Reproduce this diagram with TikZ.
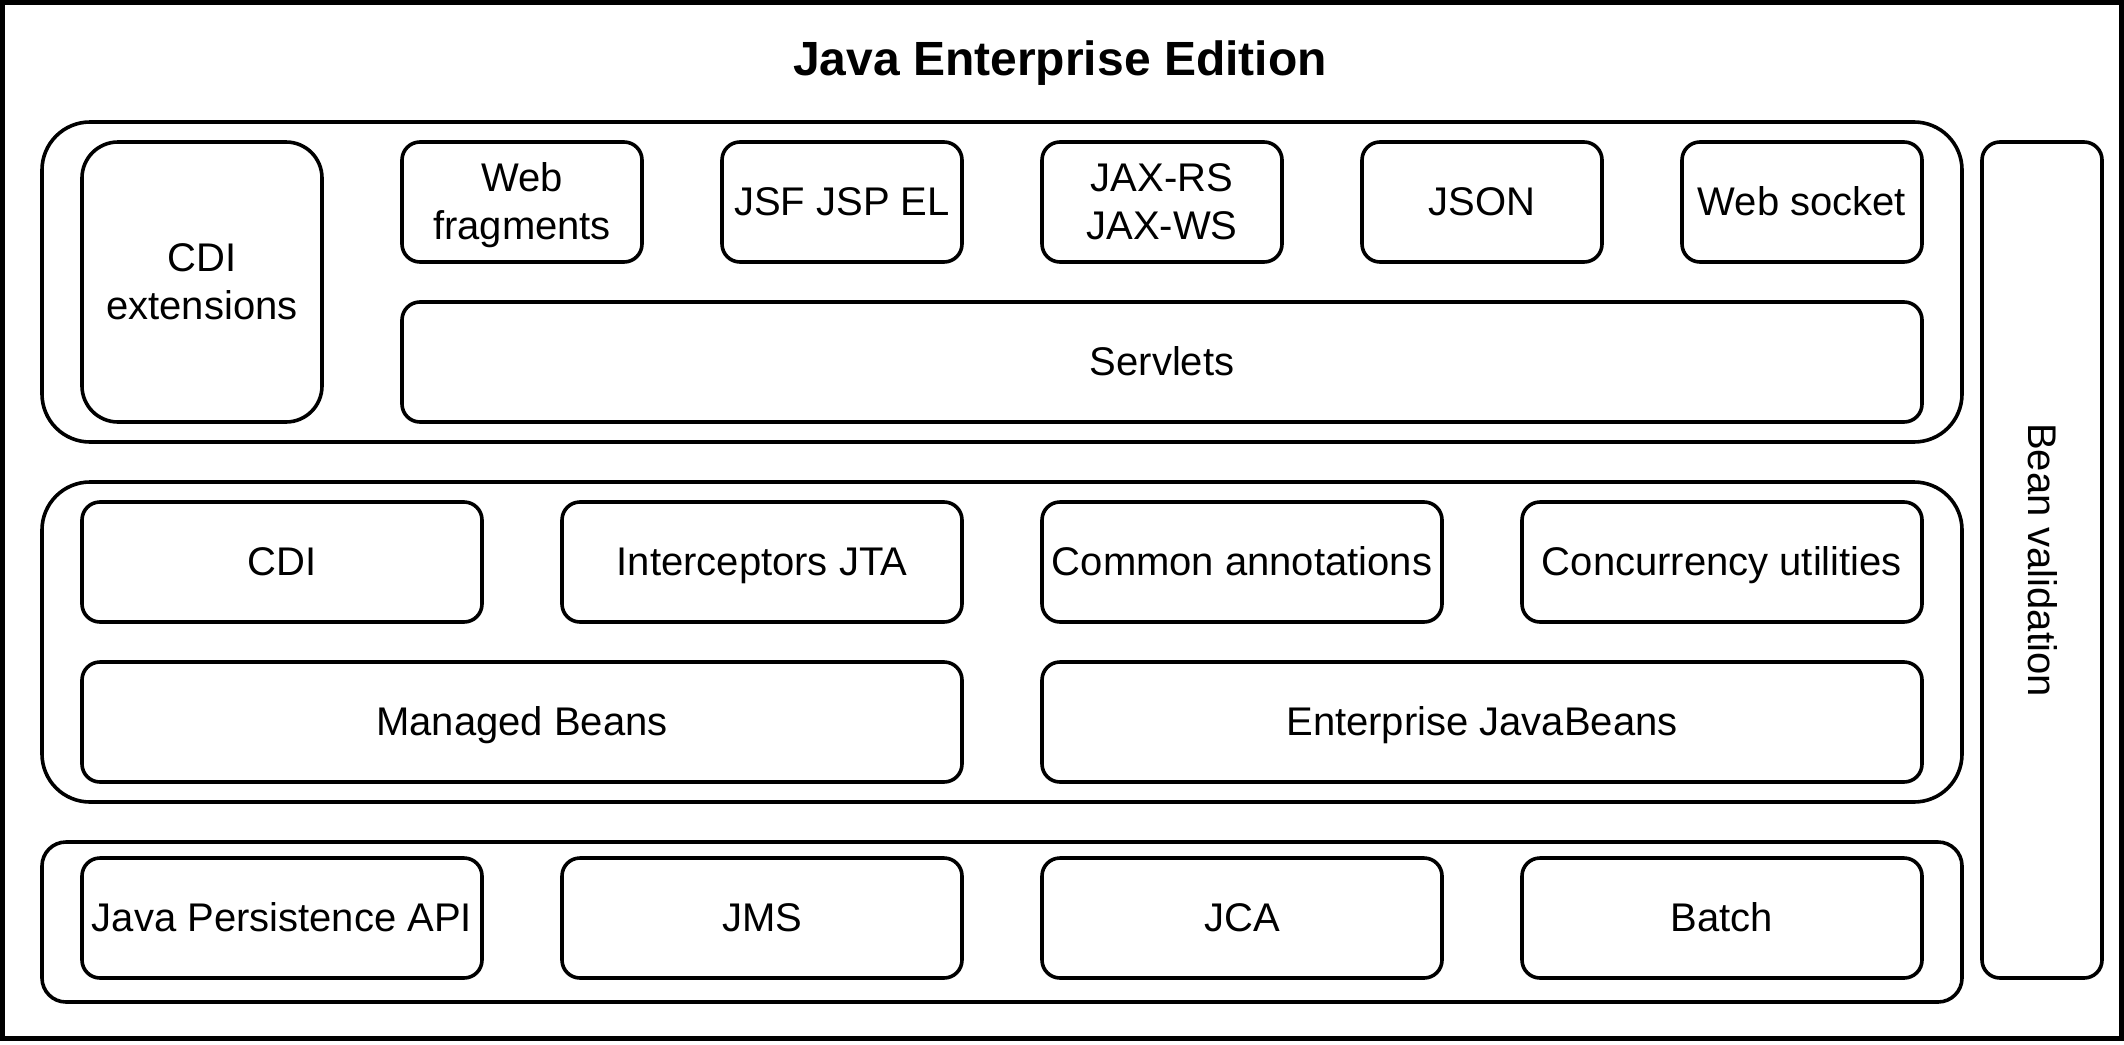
\documentclass[tikz,border=0pt]{standalone}
\usepackage{fontspec}
\setmainfont{Liberation Sans}
\begin{document}
\begin{tikzpicture}[x=1pt,y=-1pt,
  base/.style={draw=black, fill=white, line width=1.8pt, inner sep=0pt, align=center,
    font=\fontsize{20}{24}\selectfont, text height=18.9pt, text depth=5.1pt},
  twoline/.style={text height=42.9pt, text depth=5.1pt},
  group/.style={base, minimum width=960pt, rounded corners=24pt},
  sbox/.style={base, minimum width=120pt, minimum height=60pt, rounded corners=9pt},
  wbox/.style={base, minimum width=200pt, minimum height=60pt, rounded corners=9pt},
  lbox/.style={base, minimum width=440pt, minimum height=60pt, rounded corners=9pt}]
\useasboundingbox (0,0) rectangle (1062,522);
\node[draw=black, line width=2.4pt, minimum width=1059.6pt, minimum height=518.2pt, inner sep=0pt] (frame) at (531,260.3) {};
\node[font=\fontsize{24}{28}\selectfont\bfseries] (title) at (530,31.6) {Java Enterprise Edition};
\begin{scope}[shift={(1,1)}]
% top group
\node[group, minimum height=160pt] (gtop) at (500,140) {};
\node[base, twoline, minimum width=120pt, minimum height=140pt, rounded corners=18pt] (cdiext) at (100,140) {CDI\\extensions};
\node[sbox, twoline] (webfrag) at (260,100) {Web\\fragments};
\node[sbox] (jsf) at (420,100) {JSF JSP EL};
\node[sbox, twoline] (jax) at (580,100) {JAX-RS\\JAX-WS};
\node[sbox] (json) at (740,100) {JSON};
\node[sbox] (websock) at (900,100) {Web socket};
\node[base, minimum width=760pt, minimum height=60pt, rounded corners=9pt] (servlets) at (580,180) {Servlets};
% middle group
\node[group, minimum height=160pt] (gmid) at (500,320) {};
\node[wbox] (cdi) at (140,280) {CDI};
\node[wbox] (icpt) at (380,280) {Interceptors JTA};
\node[wbox] (common) at (620,280) {Common annotations};
\node[wbox] (conc) at (860,280) {Concurrency utilities};
\node[lbox] (managed) at (260,360) {Managed Beans};
\node[lbox] (ejb) at (740,360) {Enterprise JavaBeans};
% bottom group
\node[group, minimum height=80pt, rounded corners=12pt] (gbot) at (500,460) {};
\node[wbox] (jpa) at (140,458) {Java Persistence API};
\node[wbox] (jms) at (380,458) {JMS};
\node[wbox] (jca) at (620,458) {JCA};
\node[wbox] (batch) at (860,458) {Batch};
% bean validation
\node[base, rotate=-90, minimum width=418pt, minimum height=60pt, rounded corners=9pt] (beanval) at (1020,279) {Bean validation};
\end{scope}
\end{tikzpicture}
\end{document}
